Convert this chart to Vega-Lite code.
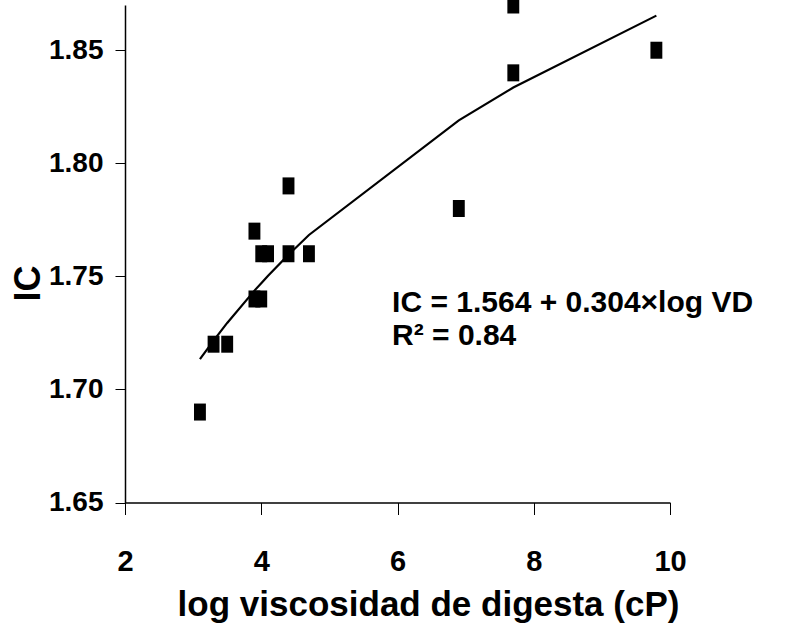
{
  "$schema": "https://vega.github.io/schema/vega-lite/v6.json",
  "autosize": {"type": "none"},
  "padding": {"left": 125, "top": 5, "right": 117, "bottom": 124.5},
  "width": 545,
  "height": 497.5,
  "background": "white",
  "config": {"view": {"stroke": null}},
  "datasets": {
    "points": [
      {"x": 3.1, "y": 1.69},
      {"x": 3.3, "y": 1.72},
      {"x": 3.5, "y": 1.72},
      {"x": 3.9, "y": 1.77},
      {"x": 3.9, "y": 1.74},
      {"x": 4.0, "y": 1.74},
      {"x": 4.0, "y": 1.76},
      {"x": 4.1, "y": 1.76},
      {"x": 4.4, "y": 1.79},
      {"x": 4.4, "y": 1.76},
      {"x": 4.7, "y": 1.76},
      {"x": 6.9, "y": 1.78},
      {"x": 7.7, "y": 1.87},
      {"x": 7.7, "y": 1.84},
      {"x": 9.8, "y": 1.85}
    ],
    "fit": [
      {"x": 3.1, "y": 1.7134},
      {"x": 3.3, "y": 1.7216},
      {"x": 3.5, "y": 1.7294},
      {"x": 3.9, "y": 1.7437},
      {"x": 4.0, "y": 1.7470},
      {"x": 4.1, "y": 1.7503},
      {"x": 4.4, "y": 1.7596},
      {"x": 4.7, "y": 1.7683},
      {"x": 6.9, "y": 1.8190},
      {"x": 7.7, "y": 1.8335},
      {"x": 9.8, "y": 1.8653}
    ],
    "note": [{"line": "IC = 1.564 + 0.304×log VD"}]
  },
  "layer": [
    {
      "data": {"name": "fit"},
      "mark": {"type": "line", "color": "black", "strokeWidth": 2.2, "interpolate": "linear"},
      "encoding": {
        "x": {
          "field": "x", "type": "quantitative",
          "scale": {"domain": [2, 10], "nice": false, "zero": false},
          "axis": {
            "title": "log viscosidad de digesta (cP)",
            "values": [2, 4, 6, 8, 10],
            "format": "d",
            "grid": false,
            "domainColor": "black", "domainWidth": 1.5,
            "tickColor": "black", "tickWidth": 1, "tickSize": 12,
            "labelFont": "Liberation Sans, Arial, sans-serif", "labelFontWeight": "bold", "labelFontSize": 29,
            "labelColor": "black", "labelPadding": 33, "labelBaseline": "top",
            "labelFlush": false, "labelOverlap": false,
            "titleFont": "Liberation Sans, Arial, sans-serif", "titleFontWeight": "bold", "titleFontSize": 35,
            "titleColor": "black", "titleX": 303, "titleY": 112.5,
            "titleAlign": "center", "titleBaseline": "alphabetic", "titleAnchor": null
          }
        },
        "y": {
          "field": "y", "type": "quantitative",
          "scale": {"domain": [1.65, 1.87], "nice": false, "zero": false},
          "axis": {
            "title": "IC",
            "values": [1.65, 1.70, 1.75, 1.80, 1.85],
            "format": ".2f",
            "grid": false,
            "domainColor": "black", "domainWidth": 1.5,
            "tickColor": "black", "tickWidth": 1, "tickSize": 10,
            "labelFont": "Liberation Sans, Arial, sans-serif", "labelFontWeight": "bold", "labelFontSize": 28,
            "labelColor": "black", "labelPadding": 12, "labelBaseline": "middle",
            "labelFlush": false, "labelOverlap": false,
            "titleFont": "Liberation Sans, Arial, sans-serif", "titleFontWeight": "bold", "titleFontSize": 36,
            "titleColor": "black", "titleX": -97, "titleY": 278, "titleAngle": 270,
            "titleAlign": "center", "titleBaseline": "middle", "titleAnchor": null
          }
        }
      }
    },
    {
      "data": {"name": "points"},
      "mark": {
        "type": "point",
        "shape": "M-0.7,-1H0.7V1H-0.7Z",
        "filled": true,
        "color": "black",
        "opacity": 1,
        "size": 289
      },
      "encoding": {
        "x": {"field": "x", "type": "quantitative"},
        "y": {"field": "y", "type": "quantitative"}
      }
    },
    {
      "data": {"name": "note"},
      "mark": {
        "type": "text", "text": "IC = 1.564 + 0.304×log VD",
        "font": "Liberation Sans, Arial, sans-serif", "fontWeight": "bold", "fontSize": 30,
        "align": "left", "baseline": "alphabetic", "color": "black"
      },
      "encoding": {
        "x": {"datum": 5.92, "type": "quantitative"},
        "y": {"datum": 1.7344, "type": "quantitative"}
      }
    },
    {
      "data": {"name": "note"},
      "mark": {
        "type": "text", "text": "R² = 0.84",
        "font": "Liberation Sans, Arial, sans-serif", "fontWeight": "bold", "fontSize": 30,
        "align": "left", "baseline": "alphabetic", "color": "black"
      },
      "encoding": {
        "x": {"datum": 5.92, "type": "quantitative"},
        "y": {"datum": 1.7198, "type": "quantitative"}
      }
    }
  ]
}
